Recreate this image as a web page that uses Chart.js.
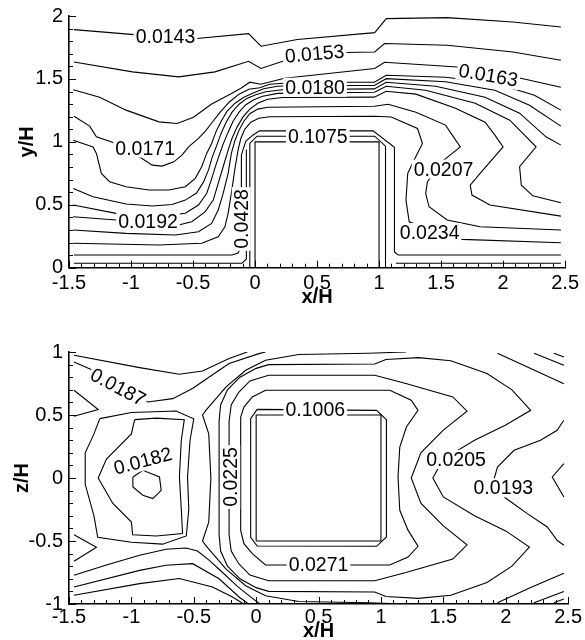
<!DOCTYPE html>
<html>
<head>
<meta charset="utf-8">
<script src="https://cdn.jsdelivr.net/npm/chart.js"></script>
<style>
html,body{margin:0;padding:0;background:#fff;overflow:hidden;width:585px;height:640px;}
canvas{position:absolute;left:0;}
#c1{top:0;}
#c2{top:320px;}
</style>
</head>
<body>
<canvas id="c1" width="585" height="320"></canvas>
<canvas id="c2" width="585" height="320"></canvas>
<script>
// ---------- axis ticks ----------
const xTickValues = [-1.5,-1,-0.5,0,0.5,1,1.5,2,2.5];
const xTickLabels = ['-1.5','-1','-0.5','0','0.5','1','1.5','2','2.5'];
const yTickValues = [0,0.5,1,1.5,2];
const yTickLabels = ['0','0.5','1','1.5','2'];
const zTickValues = [-1,-0.5,0,0.5,1];
const zTickLabels = ['-1','-0.5','0','0.5','1'];
const minorStep = 0.1;

// ---------- top panel (x/H , y/H) contour lines ----------
const topA = [[-1.46,1.892],[-0.974,1.852],[-0.47,1.821],[-0.052,1.86],[0.048,1.76],[0.341,1.813],[0.965,1.868],[1.058,1.979],[1.549,1.987],[2.078,1.952],[2.466,1.913]];
const topB = [[-1.46,1.635],[-0.988,1.556],[-0.616,1.516],[-0.323,1.556],[-0.052,1.64],[0.048,1.583],[0.235,1.645],[0.726,1.71],[0.965,1.714],[1.044,1.781],[1.549,1.767],[2.08,1.714],[2.466,1.648]];
const topC = [[-1.466,1.414],[-1.253,1.355],[-1.04,1.252],[-0.775,1.159],[-0.629,1.146],[-0.496,1.196],[-0.353,1.299],[-0.201,1.379],[-0.114,1.426],[-0.042,1.474],[0.046,1.458],[0.237,1.506],[0.965,1.583],[1.044,1.633],[1.631,1.595],[2.125,1.51],[2.466,1.434]];
const topD = [[-1.46,1.204],[-1.333,1.125],[-1.279,1.04],[-1.12,0.987],[-1.03,0.934],[-0.934,0.881],[-0.828,0.815],[-0.749,0.807],[-0.655,0.841],[-0.589,0.894],[-0.536,0.96],[-0.456,1.027],[-0.4,1.085],[-0.345,1.156],[-0.281,1.236],[-0.209,1.315],[-0.129,1.379],[-0.05,1.418],[0.038,1.43],[0.118,1.458],[0.341,1.474],[0.962,1.474],[1.058,1.529],[1.536,1.513],[1.934,1.466],[2.253,1.371],[2.466,1.252]];
const topE = [[-1.466,1.013],[-1.306,0.96],[-1.279,0.908],[-1.239,0.749],[-1.173,0.683],[-1.04,0.643],[-0.855,0.617],[-0.695,0.617],[-0.562,0.643],[-0.482,0.71],[-0.43,0.802],[-0.39,0.908],[-0.35,0.987],[-0.313,1.085],[-0.273,1.164],[-0.225,1.244],[-0.161,1.307],[-0.09,1.355],[-0.01,1.39],[0.07,1.422],[0.181,1.442],[0.341,1.448],[0.962,1.448],[1.058,1.502],[1.536,1.478],[1.934,1.41],[2.213,1.291],[2.466,1.125]];
const topF = [[-1.466,0.63],[-1.306,0.563],[-1.04,0.506],[-0.828,0.49],[-0.669,0.502],[-0.562,0.537],[-0.472,0.593],[-0.416,0.68],[-0.376,0.775],[-0.345,0.879],[-0.305,0.982],[-0.273,1.069],[-0.233,1.156],[-0.185,1.236],[-0.129,1.299],[-0.066,1.345],[0.006,1.375],[0.086,1.398],[0.221,1.414],[0.962,1.421],[1.058,1.474],[1.456,1.442],[1.855,1.355],[2.133,1.228],[2.346,1.04],[2.466,0.974]];
const topG = [[-1.466,0.498],[-1.12,0.432],[-0.775,0.405],[-0.562,0.432],[-0.456,0.498],[-0.39,0.59],[-0.353,0.696],[-0.321,0.799],[-0.289,0.894],[-0.257,0.982],[-0.217,1.077],[-0.177,1.164],[-0.129,1.236],[-0.074,1.295],[-0.01,1.335],[0.062,1.362],[0.181,1.385],[0.962,1.394],[1.058,1.442],[1.376,1.41],[1.775,1.307],[2.054,1.172],[2.173,1.053],[2.266,0.96],[2.133,0.802],[2.147,0.656],[2.24,0.571],[2.466,0.516]];
const topH = [[-1.466,0.405],[-1.12,0.379],[-0.616,0.339],[-0.51,0.365],[-0.403,0.444],[-0.337,0.537],[-0.297,0.67],[-0.257,0.802],[-0.217,0.934],[-0.185,1.029],[-0.145,1.117],[-0.098,1.196],[-0.042,1.26],[0.022,1.307],[0.102,1.339],[0.221,1.352],[0.962,1.355],[1.058,1.402],[1.297,1.379],[1.616,1.267],[1.855,1.156],[1.934,1.053],[2.0,0.96],[1.815,0.749],[1.735,0.656],[1.749,0.577],[1.894,0.498],[2.466,0.41]];
const topI = [[-1.466,0.299],[-1.04,0.273],[-0.642,0.26],[-0.456,0.286],[-0.35,0.352],[-0.297,0.458],[-0.257,0.59],[-0.217,0.749],[-0.191,0.908],[-0.161,1.013],[-0.129,1.093],[-0.09,1.164],[-0.042,1.224],[0.022,1.26],[0.102,1.275],[0.962,1.283],[1.074,1.299],[1.297,1.236],[1.536,1.133],[1.655,0.96],[1.522,0.855],[1.39,0.683],[1.376,0.59],[1.403,0.484],[1.549,0.379],[1.815,0.325],[2.466,0.299]];
const topJ = [[-1.466,0.194],[-0.775,0.18],[-0.43,0.194],[-0.297,0.246],[-0.243,0.325],[-0.217,0.432],[-0.191,0.59],[-0.164,0.775],[-0.137,0.934],[-0.114,1.029],[-0.082,1.101],[-0.034,1.156],[0.03,1.188],[0.118,1.2],[0.962,1.204],[1.098,1.198],[1.31,1.106],[1.35,0.987],[1.283,0.855],[1.231,0.749],[1.217,0.537],[1.243,0.365],[1.456,0.283],[1.669,0.225],[2.466,0.198]];
const topK = [[-1.46,0.101],[-0.185,0.101],[-0.137,0.117],[-0.11,0.172],[-0.11,0.894],[-0.098,0.934],[-0.074,1.006],[-0.018,1.053],[0.035,1.087],[0.952,1.087],[1.124,0.956],[1.124,0.125],[1.153,0.101],[2.466,0.101]];
const topL = [[-1.46,0.035],[-0.106,0.035],[-0.07,0.069],[-0.07,0.94]];
const topM = [[-0.042,0],[-0.042,0.987],[0.016,1.045],[0.965,1.045],[1.052,0.966],[1.052,0]];
const topN = [[1.137,0.035],[2.466,0.035]];
const topCube = [[0,0],[0,1],[1,1],[1,0]];
// [text, x, y, rotation deg]
const topLabels = [
  ['0.0143',-0.722,1.839,0],
  ['0.0153',0.48,1.70,-5],
  ['0.0180',0.484,1.434,0],
  ['0.0163',1.881,1.529,10],
  ['0.0171',-0.886,0.95,0],
  ['0.1075',0.506,1.045,0],
  ['0.0207',1.52,0.783,0],
  ['0.0192',-0.863,0.363,0],
  ['0.0428',-0.111,0.387,-90],
  ['0.0234',1.408,0.279,0]
];

// ---------- bottom panel (x/H , z/H) contour lines ----------
const botT1 = [[-1.46,0.974],[-0.934,0.876],[-0.616,0.823],[-0.43,0.849],[-0.217,0.948],[-0.071,1.0]];
const botT2 = [[-1.46,0.921],[-1.253,0.831],[-0.868,0.603],[-0.669,0.63],[-0.51,0.71],[-0.376,0.802],[-0.217,0.908],[0.022,0.987],[0.075,1.0]];
const botB0 = [[-1.46,-0.772],[-1.2,-0.69],[-0.934,-0.613],[-0.722,-0.565],[-0.562,-0.555],[-0.47,-0.58],[-0.38,-0.65],[-0.28,-0.74],[-0.15,-0.86],[-0.05,-0.94],[0.03,-1.0]];
const botB1 = [[-1.46,-0.865],[-0.934,-0.733],[-0.722,-0.693],[-0.509,-0.68],[-0.297,-0.8],[-0.13,-0.95],[-0.06,-1.0]];
const botB2 = [[-1.46,-0.931],[-0.934,-0.838],[-0.616,-0.798],[-0.35,-0.865],[-0.19,-0.944],[-0.1,-1.0]];
const botWedgeTop = [[-1.46,0.696],[-1.266,0.543],[-1.46,0.49]];
const botWedgeBot = [[-1.46,-0.45],[-1.28,-0.55],[-1.46,-0.66]];
const botLoopA = [[-1.253,0.471],[-1.0,0.52],[-0.642,0.532],[-0.5,0.47],[-0.53,0.3],[-0.55,0.008],[-0.54,-0.25],[-0.56,-0.46],[-0.75,-0.525],[-1.0,-0.51],[-1.27,-0.47],[-1.3,-0.3],[-1.37,-0.05],[-1.37,0.2],[-1.3,0.35],[-1.253,0.471]];
const botLoopB = [[-0.974,0.463],[-0.8,0.475],[-0.576,0.463],[-0.6,0.3],[-0.615,0.008],[-0.6,-0.25],[-0.59,-0.44],[-0.8,-0.46],[-0.99,-0.45],[-1.0,-0.35],[-1.15,-0.2],[-1.266,0.0],[-1.2,0.15],[-1.0,0.35],[-0.974,0.463]];
const botLoopS = [[-0.988,0.008],[-0.908,0.061],[-0.775,0.008],[-0.761,-0.098],[-0.828,-0.163],[-0.908,-0.137],[-0.988,-0.071],[-0.988,0.008]];
const botV5 = [[1.2,1.0],[0.9,0.99],[0.341,0.98],[0.075,0.934],[-0.084,0.855],[-0.243,0.722],[-0.403,0.537],[-0.43,0.5],[-0.38,0.35],[-0.363,0.0],[-0.38,-0.35],[-0.43,-0.5],[-0.403,-0.537],[-0.243,-0.722],[-0.084,-0.855],[0.075,-0.934],[0.341,-0.98],[0.9,-0.99],[1.2,-1.0]];
const botC4 = [[-0.297,0.45],[-0.285,0.58],[-0.23,0.7],[-0.13,0.8],[0.0,0.87],[0.1,0.9],[0.95,0.905],[1.04,0.94],[1.3,0.955],[1.56,0.93],[1.85,0.83],[2.05,0.7],[2.2,0.537],[2.0,0.42],[1.75,0.3],[1.5,0.15],[1.416,0.0],[1.5,-0.15],[1.75,-0.3],[2.0,-0.42],[2.19,-0.548],[2.05,-0.7],[1.85,-0.83],[1.56,-0.93],[1.3,-0.955],[1.04,-0.94],[0.95,-0.905],[0.1,-0.9],[0.0,-0.87],[-0.13,-0.8],[-0.23,-0.7],[-0.285,-0.58],[-0.297,-0.45],[-0.297,0.45]];
const botC3 = [[-0.217,0.45],[-0.2,0.58],[-0.14,0.68],[-0.05,0.77],[0.1,0.815],[0.95,0.815],[1.2,0.75],[1.576,0.643],[1.69,0.53],[1.5,0.38],[1.32,0.2],[1.243,0.0],[1.32,-0.2],[1.5,-0.38],[1.69,-0.53],[1.576,-0.643],[1.2,-0.75],[0.95,-0.815],[0.1,-0.815],[-0.05,-0.77],[-0.14,-0.68],[-0.2,-0.58],[-0.217,-0.45],[-0.217,0.45]];
const botC2 = [[0.075,0.696],[1.071,0.696],[1.243,0.617],[1.297,0.537],[1.204,0.405],[1.151,0.246],[1.137,0.008],[1.151,-0.256],[1.217,-0.414],[1.297,-0.542],[1.217,-0.627],[1.071,-0.69],[0.075,-0.69],[-0.031,-0.6],[-0.098,-0.521],[-0.124,-0.416],[-0.124,0.484],[-0.098,0.563],[-0.031,0.643],[0.075,0.696]];
const botC1 = [[0.008,0.545],[0.965,0.537],[1.044,0.463],[1.044,-0.468],[0.965,-0.542],[0.008,-0.54],[-0.044,-0.47],[-0.044,0.471],[0.008,0.545]];
const botCube = [[0,-0.5],[0,0.5],[1,0.5],[1,-0.5],[0,-0.5]];
const bot0193 = [[2.466,0.458],[2.412,0.379],[2.279,0.299],[2.067,0.22],[1.934,0.087],[1.9,-0.03],[1.988,-0.151],[2.173,-0.283],[2.333,-0.389],[2.412,-0.494],[2.466,-0.534]];
const botRightSmall = [[2.466,0.114],[2.373,0.008],[2.466,-0.151]];
const botTR1 = [[1.934,0.99],[2.2,0.87],[2.466,0.749]];
const botTR2 = [[2.227,0.99],[2.466,0.894]];
const botTR3 = [[2.386,0.99],[2.466,0.96]];
const botBR1 = [[1.934,-0.99],[2.2,-0.87],[2.466,-0.755]];
const botBR2 = [[2.227,-0.99],[2.466,-0.9]];
const botBR3 = [[2.386,-0.99],[2.466,-0.96]];
const botLabels = [
  ['0.0187',-1.107,0.722,28],
  ['0.0182',-0.908,0.135,-15],
  ['0.0225',-0.204,0.008,-90],
  ['0.1006',0.474,0.545,0],
  ['0.0271',0.5,-0.685,0],
  ['0.0205',1.602,0.148,0],
  ['0.0193',1.981,-0.078,0]
];

const topLines = [topA,topB,topC,topD,topE,topF,topG,topH,topI,topJ,topK,topL,topM,topN,topCube];
const botLines = [botT1,botT2,botB0,botB1,botB2,botWedgeTop,botWedgeBot,botLoopA,botLoopB,botLoopS,botV5,botC4,botC3,botC2,botC1,botCube,bot0193,botRightSmall,botTR1,botTR2,botTR3,botBR1,botBR2,botBR3];

// ---------- plugins ----------
const FONT = '"Liberation Sans", Arial, Helvetica, sans-serif';
const contourLabels = {
  id: 'contourLabels',
  afterDatasetsDraw(chart, args, opts) {
    const {ctx, scales} = chart;
    const xs = scales.x, ys = scales.y;
    ctx.save();
    ctx.font = '19.5px ' + FONT;
    ctx.textAlign = 'center';
    ctx.textBaseline = 'middle';
    for (const [t, vx, vy, rot] of opts.labels) {
      const px = xs.getPixelForValue(vx), py = ys.getPixelForValue(vy);
      ctx.save();
      ctx.translate(px, py);
      ctx.rotate(rot * Math.PI / 180);
      const w = ctx.measureText(t).width;
      ctx.fillStyle = '#fff';
      ctx.fillRect(-w / 2 - 2, -9.5, w + 4, 19);
      ctx.fillStyle = '#000';
      ctx.fillText(t, 0, 1);
      ctx.restore();
    }
    ctx.restore();
  }
};
const innerTicks = {
  id: 'innerTicks',
  afterDraw(chart) {
    const {ctx, chartArea, scales} = chart;
    const xs = scales.x, ys = scales.y;
    ctx.save();
    ctx.strokeStyle = '#000';
    ctx.lineWidth = 1;
    ctx.beginPath();
    const nx = Math.round((xs.max - xs.min) / minorStep);
    for (let i = 0; i <= nx; i++) {
      const px = Math.round(xs.getPixelForValue(xs.min + i * minorStep)) + 0.5;
      const len = (i % 5 === 0) ? 7 : 4;
      ctx.moveTo(px, chartArea.bottom);
      ctx.lineTo(px, chartArea.bottom - len);
    }
    const ny = Math.round((ys.max - ys.min) / minorStep);
    for (let i = 0; i <= ny; i++) {
      const py = Math.round(ys.getPixelForValue(ys.min + i * minorStep)) + 0.5;
      const len = (i % 5 === 0) ? 7 : 4;
      ctx.moveTo(chartArea.left, py);
      ctx.lineTo(chartArea.left + len, py);
    }
    ctx.stroke();
    ctx.restore();
  }
};

function makeDatasets(lines) {
  return lines.map(arr => ({
    data: arr.map(([x, y]) => ({x, y})),
    showLine: true,
    borderColor: '#000',
    borderWidth: 1.1,
    pointRadius: 0,
    pointHoverRadius: 0,
    fill: false,
    tension: 0
  }));
}

function makeChart(canvasId, lines, labels, yVals, yLabs, yTitle, cfg) {
  return new Chart(document.getElementById(canvasId), {
    type: 'scatter',
    data: {datasets: makeDatasets(lines)},
    plugins: [contourLabels, innerTicks],
    options: {
      responsive: false,
      animation: false,
      events: [],
      layout: {padding: {left: 0, right: 14, top: cfg.padTop, bottom: 0}},
      plugins: {
        legend: {display: false},
        tooltip: {enabled: false},
        contourLabels: {labels: labels}
      },
      scales: {
        x: {
          type: 'linear', min: -1.5, max: 2.5,
          afterFit: s => { s.height = cfg.xHeight; },
          afterBuildTicks: s => { s.ticks = xTickValues.map(v => ({value: v})); },
          ticks: {
            autoSkip: false, maxRotation: 0, minRotation: 0,
            padding: cfg.xTickPad, color: '#000',
            font: {family: FONT, size: 20, lineHeight: 1},
            callback: (v, i) => xTickLabels[i]
          },
          grid: {display: false, drawTicks: false},
          border: {display: true, color: '#000', width: 1.6},
          title: {display: true, text: 'x/H', color: '#000',
            font: {family: FONT, size: 20, weight: 'bold', lineHeight: 1},
            padding: {top: 0, bottom: cfg.xTitlePad}}
        },
        y: {
          type: 'linear', min: yVals[0], max: yVals[yVals.length - 1],
          afterFit: s => { s.width = 69; },
          afterBuildTicks: s => { s.ticks = yVals.map(v => ({value: v})); },
          ticks: {
            autoSkip: false, padding: 6, color: '#000',
            font: {family: FONT, size: 20, lineHeight: 1},
            callback: (v, i) => yLabs[i]
          },
          grid: {display: false, drawTicks: false},
          border: {display: true, color: '#000', width: 1.6},
          title: {display: true, text: yTitle, color: '#000',
            font: {family: FONT, size: 20, weight: 'bold', lineHeight: 1},
            padding: {top: cfg.yTitlePad, bottom: 0}}
        }
      }
    }
  });
}

makeChart('c1', topLines, topLabels, yTickValues, yTickLabels, 'y/H',
  {padTop: 15.7, xHeight: 52.3, xTickPad: 6, xTitlePad: 13, yTitlePad: 17.5});
makeChart('c2', botLines, botLabels, zTickValues, zTickLabels, 'z/H',
  {padTop: 32, xHeight: 36, xTickPad: 3, xTitlePad: -1, yTitlePad: 12.7});
</script>
</body>
</html>
